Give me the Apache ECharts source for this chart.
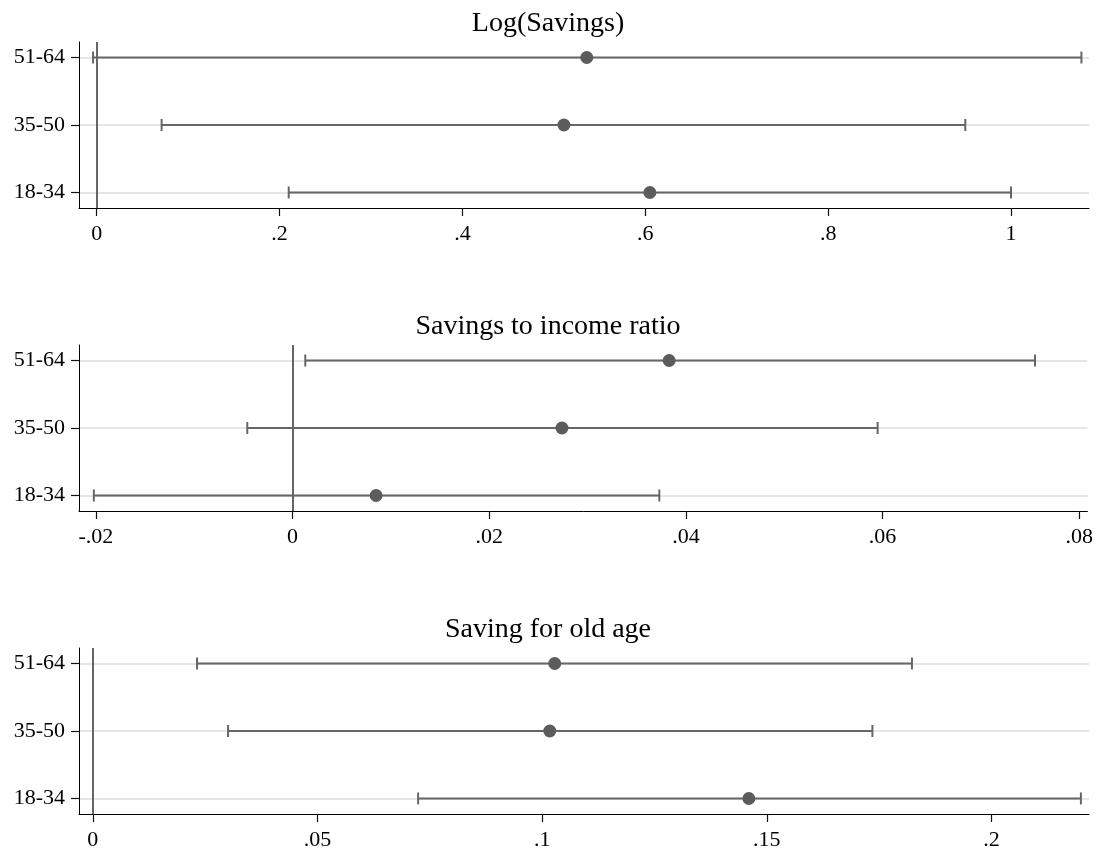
<!DOCTYPE html>
<html>
<head>
<meta charset="utf-8">
<script src="https://cdn.jsdelivr.net/npm/echarts@6/dist/echarts.min.js"></script>
<style>
html,body{margin:0;padding:0;background:#fff;}
#chart{width:1096px;height:855px;}
</style>
</head>
<body>
<div id="chart"></div>
<script>
// ---- data ----
const categories = ['18-34', '35-50', '51-64'];
const panelTitles = ['Log(Savings)', 'Savings to income ratio', 'Saving for old age'];

const logSavingsEst = [0.605, 0.511, 0.536];
const logSavingsLow = [0.210, 0.071, -0.004];
const logSavingsHigh = [1.000, 0.950, 1.077];
const logSavingsTicks = [0, 0.2, 0.4, 0.6, 0.8, 1];

const ratioEst = [0.0085, 0.0274, 0.0383];
const ratioLow = [-0.0202, -0.0046, 0.0013];
const ratioHigh = [0.0373, 0.0595, 0.0755];
const ratioTicks = [-0.02, 0, 0.02, 0.04, 0.06, 0.08];

const oldAgeEst = [0.1460, 0.1017, 0.1028];
const oldAgeLow = [0.0724, 0.0301, 0.0232];
const oldAgeHigh = [0.2199, 0.1735, 0.1823];
const oldAgeTicks = [0, 0.05, 0.1, 0.15, 0.2];

// ---- layout / style ----
const panels = [
  {title: panelTitles[0], est: logSavingsEst, low: logSavingsLow, high: logSavingsHigh, ticks: logSavingsTicks, min: -0.01936, max: 1.0853, top: 42},
  {title: panelTitles[1], est: ratioEst, low: ratioLow, high: ratioHigh, ticks: ratioTicks, min: -0.02171, max: 0.08083, top: 345},
  {title: panelTitles[2], est: oldAgeEst, low: oldAgeLow, high: oldAgeHigh, ticks: oldAgeTicks, min: -0.00307, max: 0.2217, top: 648}
];
const plotHeight = 166;
const yMin = 0.77, yMax = 3.23;
const FONT = '"Liberation Serif", "Times New Roman", serif';
const barColor = '#666666';
const dotColor = '#5c5c5c';
const tickLen = 8;

function fmt(v) {
  let r = Math.round(v * 10000) / 10000;
  if (r === 0) return '0';
  return String(r).replace(/^0\./, '.').replace(/^-0\./, '-.');
}

const catPos = categories.map((c, i) => i + 1);

const option = {
  animation: false,
  backgroundColor: '#fff',
  title: [],
  grid: [],
  xAxis: [],
  yAxis: [],
  series: []
};

panels.forEach((p, k) => {
  option.title.push({
    text: p.title,
    left: 'center',
    top: p.top - 37,
    textStyle: {fontFamily: FONT, fontSize: 28, fontWeight: 'normal', color: '#000'}
  });
  option.grid.push({left: 79, right: 7, top: p.top, height: plotHeight});
  option.xAxis.push({
    type: 'value', gridIndex: k, min: p.min, max: p.max,
    axisLine: {show: true, onZero: false, lineStyle: {color: '#000', width: 1}},
    axisTick: {show: true, inside: false, length: tickLen, customValues: p.ticks, lineStyle: {color: '#111', width: 1.2}},
    axisLabel: {customValues: p.ticks, formatter: fmt, margin: 15,
      fontFamily: FONT, fontSize: 22, color: '#000', hideOverlap: false, showMinLabel: true, showMaxLabel: true},
    splitLine: {show: false}
  });
  option.yAxis.push({
    type: 'value', gridIndex: k, min: yMin, max: yMax,
    axisLine: {show: true, onZero: false, lineStyle: {color: '#000', width: 1}},
    axisTick: {show: true, inside: false, length: tickLen, customValues: catPos, lineStyle: {color: '#111', width: 1.2}},
    axisLabel: {customValues: catPos, formatter: v => categories[Math.round(v) - 1] || '', margin: 14,
      fontFamily: FONT, fontSize: 22, color: '#000'},
    splitLine: {show: false}
  });
  // gridlines (drawn underneath)
  option.series.push({
    type: 'line', xAxisIndex: k, yAxisIndex: k, data: [], silent: true, z: 0,
    markLine: {
      silent: true, symbol: 'none', animation: false, z: 0,
      label: {show: false},
      data: catPos.map(y => ({yAxis: y, lineStyle: {color: '#e6e6e6', width: 2, type: 'solid'}}))
    }
  });
  // zero line
  option.series.push({
    type: 'line', xAxisIndex: k, yAxisIndex: k, data: [], silent: true, z: 1,
    markLine: {
      silent: true, symbol: 'none', animation: false, z: 1,
      label: {show: false},
      data: [{xAxis: 0, lineStyle: {color: '#333', width: 1.5, type: 'solid'}}]
    }
  });
  // error bars
  option.series.push({
    type: 'custom', xAxisIndex: k, yAxisIndex: k,
    data: categories.map((c, i) => [p.low[i], p.high[i], catPos[i]]),
    encode: {x: [0, 1], y: 2},
    renderItem: function (params, api) {
      const a = api.coord([api.value(0), api.value(2)]);
      const b = api.coord([api.value(1), api.value(2)]);
      const cap = 6;
      const st = {stroke: barColor, lineWidth: 2};
      return {type: 'group', children: [
        {type: 'line', shape: {x1: a[0], y1: a[1], x2: b[0], y2: b[1]}, style: st},
        {type: 'line', shape: {x1: a[0], y1: a[1] - cap, x2: a[0], y2: a[1] + cap}, style: st},
        {type: 'line', shape: {x1: b[0], y1: b[1] - cap, x2: b[0], y2: b[1] + cap}, style: st}
      ]};
    },
    z: 5
  });
  // point estimates
  option.series.push({
    type: 'scatter', xAxisIndex: k, yAxisIndex: k,
    data: categories.map((c, i) => [p.est[i], catPos[i]]),
    symbol: 'circle', symbolSize: 13,
    itemStyle: {color: dotColor, opacity: 1},
    z: 6
  });
});

const chart = echarts.init(document.getElementById('chart'), null, {renderer: 'canvas'});
chart.setOption(option);
</script>
</body>
</html>
